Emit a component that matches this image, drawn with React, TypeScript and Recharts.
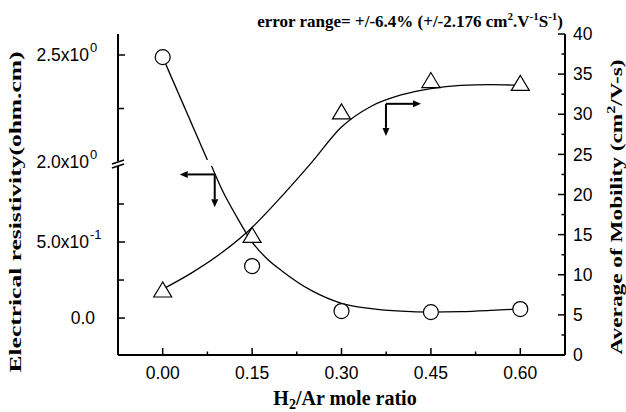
import React from 'react';
import { ComposedChart, Line, XAxis, YAxis, ReferenceLine, Customized } from 'recharts';

// measured points
const ratio = [0, 0.15, 0.3, 0.45, 0.6];
const resistivity = [2.49, 0.342, 0.046, 0.039, 0.059];
const mobility = [8.1, 14.9, 30.3, 34.2, 33.85];

// fitted curves
const mobFitX = [0, 0.05, 0.1, 0.15, 0.2, 0.25, 0.3, 0.35, 0.4, 0.45, 0.5, 0.55, 0.6];
const mobFitY = [8.2, 10.3, 12.8, 15.9, 19.8, 24.0, 28.4, 31.0, 32.4, 33.2, 33.6, 33.7, 33.6];
const resFitUpperX = [0, 0.075];
const resFitUpperY = [2.49, 2.01];
const resFitLowerX = [0.082, 0.1, 0.125, 0.15, 0.175, 0.2, 0.25, 0.3, 0.35, 0.4, 0.45, 0.5, 0.55, 0.6];
const resFitLowerY = [1.0, 0.84, 0.66, 0.5, 0.39, 0.31, 0.18, 0.097, 0.062, 0.045, 0.039, 0.042, 0.05, 0.06];

// ticks
const xTicks = [0, 0.075, 0.15, 0.225, 0.3, 0.375, 0.45, 0.525, 0.6];
const xTickLabels = ['0.00', '', '0.15', '', '0.30', '', '0.45', '', '0.60'];
const resTicks = [0, 0.25, 0.5, 0.75, 2.0, 2.25, 2.5];
const resTickLabels = [['0.0', ''], ['', ''], ['5.0x10', '-1'], ['', ''], ['2.0x10', '0'], ['', ''], ['2.5x10', '0']];
const mobTicks = [0, 2.5, 5, 7.5, 10, 12.5, 15, 17.5, 20, 22.5, 25, 27.5, 30, 32.5, 35, 37.5, 40];

// arrows pointing to the axis each series belongs to (x, mobility units)
const resArrow = { x: 0.0873, y: 22.5, left: 0.0286, down: 18.4 };
const mobArrow = { x: 0.3746, y: 31.3, right: 0.4334, down: 27.3 };

// broken left axis: values above the break are compressed onto the upper segment
const BREAK_AT = 2.0;
const BREAK_POS = 1.026;
const UPPER_SCALE = 1.408;
const brk = (v: number) => (v < 1.5 ? v : BREAK_POS + (v - BREAK_AT) * UPPER_SCALE);

const toPts = (xs: number[], ys: number[], f = (v: number) => v) => xs.map((x, i) => ({ x, y: f(ys[i]) }));

const SANS = '"Liberation Sans", Arial, sans-serif';
const SERIF = '"Liberation Serif", "Times New Roman", serif';

const BottomTick = ({ x, y, index }: any) => {
  const major = xTickLabels[index] !== '';
  return (
    <g>
      <line x1={x} y1={y} x2={x} y2={y - (major ? 7 : 3.5)} stroke="#000" strokeWidth={1.5} />
      {major && (
        <text x={x} y={y + 24} textAnchor="middle" fontFamily={SANS} fontSize={17.5} fill="#000">
          {xTickLabels[index]}
        </text>
      )}
    </g>
  );
};

const TopTick = ({ x, y }: any) => <line x1={x} y1={y} x2={x} y2={y + 3.5} stroke="#000" strokeWidth={1.5} />;

const LeftTick = ({ x, y, index }: any) => {
  const [base, exp] = resTickLabels[index];
  const isBreak = resTicks[index] === BREAK_AT;
  return (
    <g>
      {!isBreak && <line x1={x} y1={y} x2={x + (base ? 7 : 6)} y2={y} stroke="#000" strokeWidth={1.5} />}
      {isBreak && (
        <g>
          <rect x={x - 3} y={y - 1} width={6} height={5} fill="#fff" />
          <line x1={x - 6} y1={y + 2} x2={x + 6} y2={y - 2} stroke="#000" strokeWidth={1.5} />
          <line x1={x - 6} y1={y + 6} x2={x + 6} y2={y + 2} stroke="#000" strokeWidth={1.5} />
        </g>
      )}
      {base && !exp && (
        <text x={x - 23} y={y} dy="0.35em" textAnchor="end" fontFamily={SANS} fontSize={17.5} fill="#000">
          {base}
        </text>
      )}
      {base && exp && (
        <text x={x - 29} y={y} dy="0.35em" textAnchor="end" fontFamily={SANS} fontSize={17.5} fill="#000">
          {base}
        </text>
      )}
      {base && exp && (
        <text x={x - 28} y={y - 3} fontFamily={SANS} fontSize={13} fill="#000">
          {exp}
        </text>
      )}
    </g>
  );
};

const RightTick = ({ x, y, payload }: any) => {
  const major = payload.value % 5 === 0;
  return (
    <g>
      <line x1={x} y1={y} x2={x - (major ? 7 : 3.5)} y2={y} stroke="#000" strokeWidth={1.5} />
      {major && (
        <text x={x + 8} y={y} dy="0.35em" fontFamily={SANS} fontSize={17.5} fill="#000">
          {payload.value}
        </text>
      )}
    </g>
  );
};

const Arrow = (props: any) => {
  const { x1, y1, x2, y2 } = props;
  const a = Math.atan2(y2 - y1, x2 - x1);
  const len = 8;
  const w = 3.5;
  const bx = x2 - len * Math.cos(a);
  const by = y2 - len * Math.sin(a);
  const px = -Math.sin(a) * w;
  const py = Math.cos(a) * w;
  return (
    <g>
      <line x1={x1} y1={y1} x2={bx} y2={by} stroke="#000" strokeWidth={2} />
      <polygon points={`${x2},${y2} ${bx + px},${by + py} ${bx - px},${by - py}`} fill="#000" />
    </g>
  );
};

const Texts = () => (
  <g fill="#000">
    <text x={563} y={27} textAnchor="end" fontFamily={SERIF} fontWeight="bold" fontSize={17}>
      error range= +/-6.4% (+/-2.176 cm<tspan dy={-7} fontSize={11}>2</tspan>
      <tspan dy={7}>.V</tspan>
      <tspan dy={-7} fontSize={11}>-1</tspan>
      <tspan dy={7}>S</tspan>
      <tspan dy={-7} fontSize={11}>-1</tspan>
      <tspan dy={7}>)</tspan>
    </text>
    <text x={345} y={405} textAnchor="middle" fontFamily={SERIF} fontWeight="bold" fontSize={20}>
      H<tspan dy={4} fontSize={14}>2</tspan>
      <tspan dy={-4}>/Ar mole ratio</tspan>
    </text>
    <text
      transform="translate(21,212) rotate(-90)"
      textAnchor="middle"
      fontFamily={SERIF}
      fontWeight="bold"
      fontSize={17}
      textLength={321}
      lengthAdjust="spacingAndGlyphs"
    >
      Electrical resistivity(ohm.cm)
    </text>
    <text
      transform="translate(622,207) rotate(-90)"
      textAnchor="middle"
      fontFamily={SERIF}
      fontWeight="bold"
      fontSize={17}
      textLength={295}
      lengthAdjust="spacingAndGlyphs"
    >
      Average of Mobility (cm<tspan dy={-7} fontSize={12}>2</tspan>
      <tspan dy={7}>/V-s)</tspan>
    </text>
  </g>
);

const circleDot = (p: any) => (
  <circle key={`c${p.index}`} cx={p.cx} cy={p.cy} r={7.5} fill="#fff" stroke="#000" strokeWidth={1.2} />
);
const triangleDot = (p: any) => (
  <polygon
    key={`t${p.index}`}
    points={`${p.cx},${p.cy - 8} ${p.cx - 9},${p.cy + 7} ${p.cx + 9},${p.cy + 7}`}
    fill="#fff"
    stroke="#000"
    strokeWidth={1.2}
  />
);

const axisLine = { stroke: '#000', strokeWidth: 2 };

export default function App() {
  return (
    <div style={{ position: 'absolute', left: 0, top: 0, background: '#fff' }}>
      <ComposedChart width={626} height={412} margin={{ top: 34, right: 21, bottom: 0, left: 58 }}>
        <XAxis
          xAxisId="b"
          dataKey="x"
          type="number"
          domain={[-0.075, 0.675]}
          ticks={xTicks}
          interval={0}
          height={57}
          tickSize={0}
          tickMargin={0}
          tickLine={false}
          tick={BottomTick}
          axisLine={axisLine}
          allowDataOverflow
        />
        <XAxis
          xAxisId="t"
          orientation="top"
          dataKey="x"
          type="number"
          domain={[-0.075, 0.675]}
          ticks={xTicks}
          interval={0}
          height={0}
          tickSize={0}
          tickMargin={0}
          tickLine={false}
          tick={TopTick}
          axisLine={axisLine}
          allowDataOverflow
        />
        <YAxis
          yAxisId="res"
          type="number"
          domain={[-0.243, 1.868]}
          ticks={resTicks.map(brk)}
          interval={0}
          width={60}
          tickSize={0}
          tickMargin={0}
          tickLine={false}
          tick={LeftTick}
          axisLine={axisLine}
          allowDataOverflow
        />
        <YAxis
          yAxisId="mob"
          orientation="right"
          type="number"
          domain={[0, 40]}
          ticks={mobTicks}
          interval={0}
          width={40}
          tickSize={0}
          tickMargin={0}
          tickLine={false}
          tick={RightTick}
          axisLine={axisLine}
          allowDataOverflow
        />
        <Line xAxisId="b" yAxisId="mob" data={toPts(mobFitX, mobFitY)} dataKey="y" type="monotone" stroke="#000" strokeWidth={1.3} dot={false} activeDot={false} isAnimationActive={false} />
        <Line xAxisId="b" yAxisId="res" data={toPts(resFitUpperX, resFitUpperY, brk)} dataKey="y" type="monotone" stroke="#000" strokeWidth={1.3} dot={false} activeDot={false} isAnimationActive={false} />
        <Line xAxisId="b" yAxisId="res" data={toPts(resFitLowerX, resFitLowerY, brk)} dataKey="y" type="monotone" stroke="#000" strokeWidth={1.3} dot={false} activeDot={false} isAnimationActive={false} />
        <Line xAxisId="b" yAxisId="mob" data={toPts(ratio, mobility)} dataKey="y" stroke="none" dot={triangleDot} activeDot={false} isAnimationActive={false} />
        <Line xAxisId="b" yAxisId="res" data={toPts(ratio, resistivity, brk)} dataKey="y" stroke="none" dot={circleDot} activeDot={false} isAnimationActive={false} />
        <ReferenceLine xAxisId="b" yAxisId="mob" segment={[{ x: resArrow.x, y: resArrow.y }, { x: resArrow.left, y: resArrow.y }]} shape={Arrow} />
        <ReferenceLine xAxisId="b" yAxisId="mob" segment={[{ x: resArrow.x, y: resArrow.y }, { x: resArrow.x, y: resArrow.down }]} shape={Arrow} />
        <ReferenceLine xAxisId="b" yAxisId="mob" segment={[{ x: mobArrow.x, y: mobArrow.y }, { x: mobArrow.right, y: mobArrow.y }]} shape={Arrow} />
        <ReferenceLine xAxisId="b" yAxisId="mob" segment={[{ x: mobArrow.x, y: mobArrow.y }, { x: mobArrow.x, y: mobArrow.down }]} shape={Arrow} />
        <Customized component={Texts} />
      </ComposedChart>
    </div>
  );
}
